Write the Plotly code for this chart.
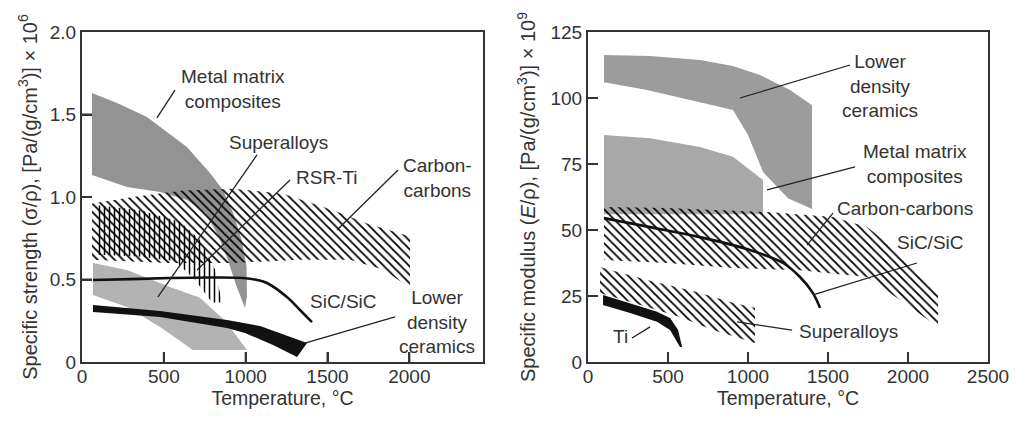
import plotly.graph_objects as go

# ================= DATA =================
# ---- Left panel: specific strength (sigma/rho), [Pa/(g/cm3)] x 10^6 vs temperature (C)
mmc_s_x = [61, 214, 397, 641, 782, 861, 925, 975, 1005, 1008, 996, 941, 892, 831, 752, 642, 477, 275, 61]
mmc_s_y = [1.63, 1.57, 1.485, 1.303, 1.145, 1.042, 0.90, 0.74, 0.58, 0.40, 0.327, 0.467, 0.618, 0.77, 0.903, 0.982, 1.03, 1.06, 1.133]

sup_s_x = [67, 275, 538, 721, 874, 1008, 678, 477, 275, 67]
sup_s_y = [0.60, 0.557, 0.455, 0.39, 0.25, 0.073, 0.073, 0.212, 0.333, 0.406]

cc_s_x = [61, 312, 617, 923, 1228, 1534, 1741, 2004, 2004, 1839, 1637, 1332, 923, 519, 61]
cc_s_y = [0.96, 1.00, 1.04, 1.05, 1.02, 0.92, 0.84, 0.76, 0.45, 0.56, 0.62, 0.62, 0.60, 0.60, 0.62]

rsr_s_x = [92, 354, 599, 721, 813, 855, 794, 690, 568, 354, 92]
rsr_s_y = [0.95, 0.92, 0.85, 0.74, 0.56, 0.36, 0.36, 0.50, 0.61, 0.64, 0.65]

sic_s_x = [67, 300, 538, 800, 984, 1070, 1130, 1252, 1332, 1405]
sic_s_y = [0.497, 0.502, 0.509, 0.512, 0.509, 0.497, 0.479, 0.394, 0.315, 0.242]

ldc_s_x = [67, 477, 886, 1088, 1240, 1375, 1314, 1167, 996, 886, 477, 67]
ldc_s_y = [0.345, 0.309, 0.255, 0.218, 0.164, 0.115, 0.03, 0.103, 0.176, 0.206, 0.273, 0.303]

# ---- Right panel: specific modulus (E/rho), [Pa/(g/cm3)] x 10^9 vs temperature (C)
ldc_m_x = [100, 388, 700, 906, 1075, 1263, 1400, 1400, 1250, 1094, 1000, 906, 638, 369, 100]
ldc_m_y = [116.3, 115.9, 114.4, 112.1, 108.7, 103.0, 97.3, 58.0, 62.0, 72.0, 86.0, 95.5, 99.2, 103.0, 106.0]

mmc_m_x = [100, 388, 700, 906, 1094, 1094, 100]
mmc_m_y = [86.0, 84.8, 81.4, 77.7, 68.9, 56.0, 56.0]

cc_m_x = [100, 494, 1119, 1531, 1744, 1950, 2188, 2188, 1950, 1744, 1325, 906, 494, 100]
cc_m_y = [58.7, 58.3, 56.8, 54.9, 51.1, 41.3, 26.1, 13.3, 23.5, 32.2, 34.8, 35.6, 37.5, 38.6]

sup_m_x = [75, 369, 681, 888, 1044, 1044, 781, 575, 369, 75]
sup_m_y = [36.0, 31.1, 26.5, 22.7, 20.5, 7.2, 12.1, 17.0, 20.8, 26.1]

ti_m_x = [94, 263, 431, 513, 563, 588, 575, 513, 431, 263, 94]
ti_m_y = [25.4, 22.3, 19.0, 16.7, 12.1, 5.7, 5.7, 12.1, 15.2, 18.6, 21.6]

sic_m_x = [100, 388, 700, 1013, 1219, 1325, 1406, 1450]
sic_m_y = [54.5, 51.1, 47.3, 42.4, 37.5, 32.2, 26.1, 20.5]

# ---- Tick labels
x_ticks_left = [0, 500, 1000, 1500, 2000]
y_ticks_left = [0, 0.5, 1.0, 1.5, 2.0]
y_ticktext_left = ["0", "0.5", "1.0", "1.5", "2.0"]
x_ticks_right = [0, 500, 1000, 1500, 2000, 2500]
y_ticks_right = [0, 25, 50, 75, 100, 125]

# ================= STYLE / LAYOUT =================
FONT = "Liberation Sans, Arial, Helvetica, sans-serif"
TXT = "#333333"
AX = "#333333"

fig = go.Figure()

def region(x, y, xa, ya, color):
    fig.add_trace(go.Scatter(x=x, y=y, xaxis=xa, yaxis=ya, mode="lines", fill="toself",
                             fillcolor=color, line=dict(width=0), hoverinfo="skip"))

def hatch(x, y, xa, ya, shape="\\", size=6, solidity=0.3):
    fig.add_trace(go.Scatter(x=x, y=y, xaxis=xa, yaxis=ya, mode="lines", fill="toself",
                             fillcolor="rgba(0,0,0,0)", line=dict(width=0), hoverinfo="skip",
                             fillpattern=dict(shape=shape, size=size, solidity=solidity,
                                              fgcolor="#000000", fgopacity=1,
                                              bgcolor="rgba(0,0,0,0)")))

def curve(x, y, xa, ya, width=2.6):
    fig.add_trace(go.Scatter(x=x, y=y, xaxis=xa, yaxis=ya, mode="lines",
                             line=dict(color="#111111", width=width, shape="spline"), hoverinfo="skip"))

# left panel
region(mmc_s_x, mmc_s_y, "x", "y", "#939393")
region(sup_s_x, sup_s_y, "x", "y", "#b3b3b3")
hatch(cc_s_x, cc_s_y, "x", "y", "\\", 6, 0.3)
hatch(rsr_s_x, rsr_s_y, "x", "y", "|", 5, 0.3)
region(ldc_s_x, ldc_s_y, "x", "y", "#111111")
curve(sic_s_x, sic_s_y, "x", "y")

# right panel
region(ldc_m_x, ldc_m_y, "x2", "y2", "#9c9c9c")
region(mmc_m_x, mmc_m_y, "x2", "y2", "#a8a8a8")
hatch(cc_m_x, cc_m_y, "x2", "y2", "\\", 6, 0.3)
hatch(sup_m_x, sup_m_y, "x2", "y2", "\\", 6, 0.3)
region(ti_m_x, ti_m_y, "x2", "y2", "#111111")
curve(sic_m_x, sic_m_y, "x2", "y2")

# labels (text, x, y, axis-id)
labels = [
    ("Metal matrix<br>composites", 923, 1.655, ""),
    ("Superalloys", 1198, 1.333, ""),
    ("RSR-Ti", 1497, 1.121, ""),
    ("Carbon-<br>carbons", 2175, 1.115, ""),
    ("SiC/SiC", 1595, 0.364, ""),
    ("Lower<br>density<br>ceramics", 2169, 0.242, ""),
    ("Lower<br>density<br>ceramics", 1825, 104.5, "2"),
    ("Metal matrix<br>composites", 2044, 75.0, "2"),
    ("Carbon-carbons", 1981, 58.3, "2"),
    ("SiC/SiC", 2138, 45.1, "2"),
    ("Superalloys", 1625, 11.4, "2"),
    ("Ti", 206, 9.5, "2"),
]
# leader lines (x0, y0, x1, y1, axis-id)
leaders = [
    (568, 1.648, 458, 1.479, ""),
    (1069, 1.255, 464, 0.394, ""),
    (1271, 1.103, 703, 0.558, ""),
    (1931, 1.164, 1558, 0.80, ""),
    (1912, 0.273, 1362, 0.115, ""),
    (1638, 112.5, 950, 100.0, "2"),
    (1669, 73.9, 1119, 65.2, "2"),
    (1531, 56.4, 1369, 44.3, "2"),
    (2056, 37.5, 1406, 25.4, "2"),
    (1275, 12.1, 931, 15.2, "2"),
    (275, 9.1, 388, 13.3, "2"),
]

annotations = []
for t, x, y, a in labels:
    annotations.append(dict(text=t, x=x, y=y, xref="x" + a, yref="y" + a, showarrow=False,
                            font=dict(family=FONT, size=19, color=TXT), align="center"))
shapes = []
for x0, y0, x1, y1, a in leaders:
    shapes.append(dict(type="line", x0=x0, y0=y0, x1=x1, y1=y1, xref="x" + a, yref="y" + a,
                       line=dict(color="#222222", width=1.3)))

# inward tick marks (drawn on the axes at the tick values)
TICK_LEN_PX = 10
PLOT_H_PX = 330
tick_line = dict(color=AX, width=2)
for a, xt in (("", x_ticks_left), ("2", x_ticks_right[:-1])):
    for v in xt[1:]:
        shapes.append(dict(type="line", xref="x" + a, yref=("y" + a) + " domain", layer="above",
                           x0=v, x1=v, y0=0, y1=TICK_LEN_PX / PLOT_H_PX, line=tick_line))
for a, yt, w_px in (("", y_ticks_left, 401), ("2", y_ticks_right, 400)):
    for v in yt[1:-1]:
        shapes.append(dict(type="line", xref=("x" + a) + " domain", yref="y" + a, layer="above",
                           x0=0, x1=TICK_LEN_PX / w_px, y0=v, y1=v, line=tick_line))

axis_common = dict(showline=True, linecolor=AX, linewidth=2, mirror=True,
                   ticks="inside", ticklen=TICK_LEN_PX, tickwidth=2, tickcolor=AX,
                   showgrid=False, zeroline=False,
                   tickfont=dict(family=FONT, size=19, color=TXT), automargin=False)

ydom = [59 / 421, 389 / 421]
fig.update_layout(
    width=1018, height=421, margin=dict(l=0, r=0, t=0, b=0),
    paper_bgcolor="white", plot_bgcolor="white", showlegend=False,
    font=dict(family=FONT, color=TXT),
    xaxis=dict(axis_common, domain=[82 / 1018, 483 / 1018], range=[0, 2450], tickvals=x_ticks_left,
               ticklabelstandoff=-4,
               title=dict(text="Temperature, °C", font=dict(size=19.5, color=TXT), standoff=0)),
    yaxis=dict(axis_common, domain=ydom, range=[0, 2.0], tickvals=y_ticks_left, ticktext=y_ticktext_left,
               title=dict(text="Specific strength (σ/ρ), [Pa/(g/cm<sup>3</sup>)] × 10<sup>6</sup>",
                          font=dict(size=20, color=TXT), standoff=7)),
    xaxis2=dict(axis_common, domain=[588 / 1018, 988 / 1018], range=[0, 2500], tickvals=x_ticks_right,
                anchor="y2", ticklabelstandoff=-4,
                title=dict(text="Temperature, °C", font=dict(size=19.5, color=TXT), standoff=0)),
    yaxis2=dict(axis_common, domain=ydom, range=[0, 125], tickvals=y_ticks_right, anchor="x2",
                title=dict(text="Specific modulus (<i>E</i>/ρ), [Pa/(g/cm<sup>3</sup>)] × 10<sup>9</sup>",
                           font=dict(size=20, color=TXT), standoff=9)),
    annotations=annotations, shapes=shapes,
)

fig.write_html("out.html")
